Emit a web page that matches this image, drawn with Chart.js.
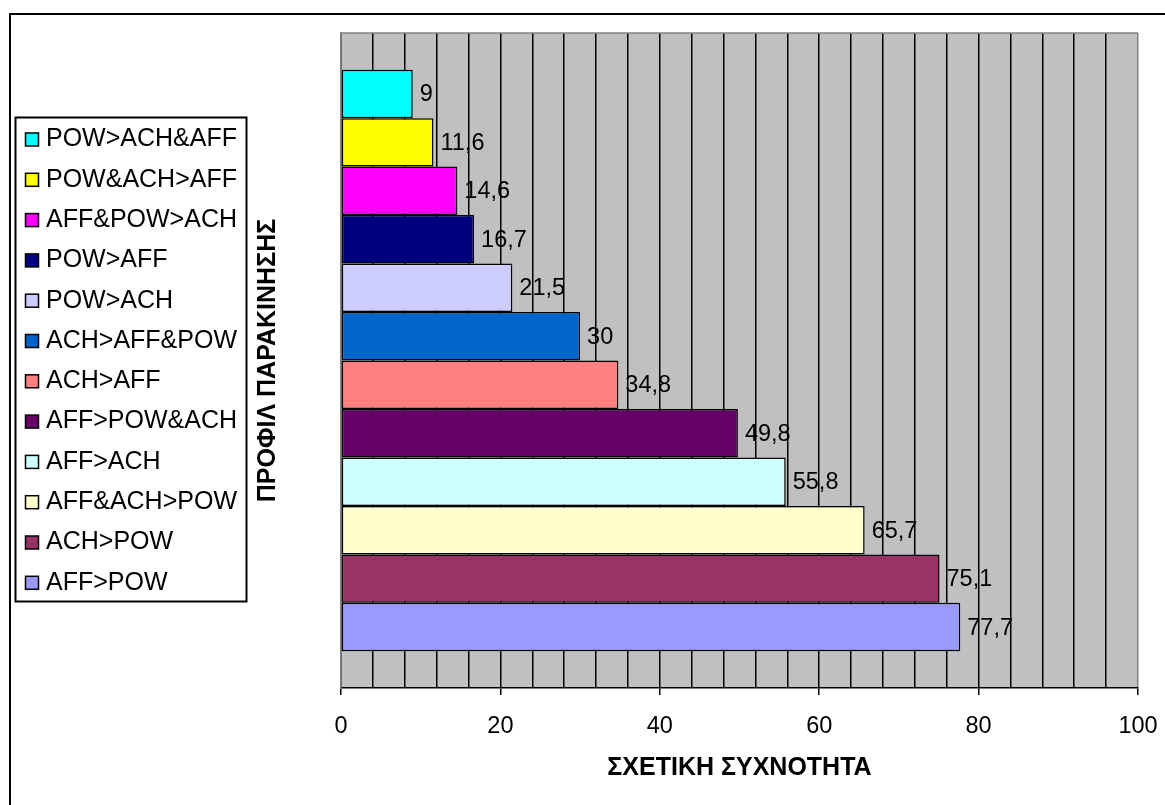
<!DOCTYPE html>
<html>
<head>
<meta charset="utf-8">
<script src="https://cdn.jsdelivr.net/npm/chart.js@4/dist/chart.umd.min.js"></script>
<style>
  html, body { margin: 0; padding: 0; background: #ffffff; }
  #wrap { width: 1165px; height: 805px; position: relative; }
</style>
</head>
<body>
<div id="wrap"><canvas id="chart" width="1165" height="805"></canvas></div>
<script>
// Motivation profiles, listed top to bottom
const profiles = [
  'POW>ACH&AFF', 'POW&ACH>AFF', 'AFF&POW>ACH', 'POW>AFF', 'POW>ACH', 'ACH>AFF&POW',
  'ACH>AFF', 'AFF>POW&ACH', 'AFF>ACH', 'AFF&ACH>POW', 'ACH>POW', 'AFF>POW'
];
// Relative frequency (%) of each profile
const frequencies = [9, 11.6, 14.6, 16.7, 21.5, 30, 34.8, 49.8, 55.8, 65.7, 75.1, 77.7];
const barColors = [
  '#00FFFF', '#FFFF00', '#FF00FF', '#000080', '#CCCCFF', '#0066CC',
  '#FF8080', '#660066', '#CCFFFF', '#FFFFCC', '#993366', '#9999FF'
];
const xTickValues = [0, 20, 40, 60, 80, 100];

const FONT = 'Liberation Sans, Arial, sans-serif';

const datasets = profiles.map((name, i) => ({
  label: name,
  data: [frequencies[i]],
  backgroundColor: barColors[i],
  borderColor: '#000000',
  borderWidth: 1.5,
  borderSkipped: false,
  barPercentage: 1,
  categoryPercentage: 0.888
}));

// Grey plot background, grey top edge and the outer frame
const frame = {
  id: 'frame',
  beforeDraw(chart) {
    const { ctx, chartArea: a } = chart;
    ctx.save();
    ctx.fillStyle = '#C0C0C0';
    ctx.fillRect(a.left, a.top, a.right - a.left, a.bottom - a.top);
    ctx.restore();
  },
  afterDraw(chart) {
    const { ctx, chartArea: a } = chart;
    ctx.save();
    ctx.strokeStyle = '#808080';
    ctx.lineWidth = 1.5;
    ctx.beginPath();
    ctx.moveTo(a.left, a.top);
    ctx.lineTo(a.right, a.top);
    ctx.stroke();
    // outer frame
    ctx.strokeStyle = '#000000';
    ctx.lineWidth = 2;
    ctx.strokeRect(10, 14, 1400, 1000);
    ctx.restore();
  }
};

// Value labels to the right of every bar
const valueLabels = {
  id: 'valueLabels',
  afterDatasetsDraw(chart) {
    const { ctx } = chart;
    ctx.save();
    ctx.font = '23.5px ' + FONT;
    ctx.fillStyle = '#000000';
    ctx.textAlign = 'left';
    ctx.textBaseline = 'middle';
    chart.data.datasets.forEach((ds, i) => {
      const bar = chart.getDatasetMeta(i).data[0];
      const txt = String(ds.data[0]).replace('.', ',');
      ctx.fillText(txt, bar.x + 7, bar.y + 1);
    });
    ctx.restore();
  }
};

// Boxed legend on the left
const boxLegend = {
  id: 'boxLegend',
  afterDraw(chart) {
    const { ctx } = chart;
    const box = { x: 15.5, y: 117.5, w: 231, h: 484 };
    ctx.save();
    ctx.fillStyle = '#ffffff';
    ctx.fillRect(box.x, box.y, box.w, box.h);
    ctx.strokeStyle = '#000000';
    ctx.lineWidth = 2;
    ctx.strokeRect(box.x, box.y, box.w, box.h);
    ctx.font = '25px ' + FONT;
    ctx.textAlign = 'left';
    ctx.textBaseline = 'middle';
    chart.data.datasets.forEach((ds, i) => {
      const cy = 138.5 + i * 40.3;
      ctx.fillStyle = ds.backgroundColor;
      ctx.fillRect(25.5, cy - 5.5, 13, 13);
      ctx.strokeStyle = '#000000';
      ctx.lineWidth = 1.5;
      ctx.strokeRect(25.5, cy - 5.5, 13, 13);
      ctx.fillStyle = '#000000';
      ctx.fillText(ds.label, 46, cy + 1);
    });
    ctx.restore();
  }
};

new Chart(document.getElementById('chart'), {
  type: 'bar',
  data: { labels: [''], datasets },
  options: {
    indexAxis: 'y',
    responsive: false,
    animation: false,
    events: [],
    layout: { padding: { top: 33, right: 27, bottom: 0, left: 250 } },
    plugins: {
      legend: { display: false },
      tooltip: { enabled: false },
      title: { display: false }
    },
    scales: {
      x: {
        type: 'linear',
        min: 0,
        max: 100,
        afterFit(scale) {
          scale.height = 117;
          scale.paddingLeft = 0;
          scale.paddingRight = 0;
        },
        ticks: {
          stepSize: 4,
          autoSkip: false,
          maxRotation: 0,
          padding: 17,
          color: '#000000',
          font: { family: FONT, size: 23.5 },
          callback: (v) => (xTickValues.includes(v) ? String(v) : '')
        },
        grid: {
          color: (c) => (c.tick && c.tick.value === 100 ? '#808080' : '#000000'),
          lineWidth: 1.5,
          tickLength: 7,
          tickColor: (c) => (c.tick && xTickValues.includes(c.tick.value) ? '#000000' : 'rgba(0,0,0,0)'),
          tickWidth: 1.5
        },
        border: { display: true, color: '#000000', width: 1.5 },
        title: {
          display: true,
          text: 'ΣΧΕΤΙΚΗ ΣΥΧΝΟΤΗΤΑ',
          color: '#000000',
          font: { family: FONT, size: 25, weight: 'bold' },
          padding: { top: 0, bottom: 22 }
        }
      },
      y: {
        type: 'category',
        afterFit(scale) {
          scale.width = 91;
          scale.paddingTop = 0;
          scale.paddingBottom = 0;
        },
        ticks: { display: false },
        grid: { display: false, drawTicks: false },
        border: { display: true, color: '#808080', width: 1.5 },
        title: {
          display: true,
          text: 'ΠΡΟΦΙΛ ΠΑΡΑΚΙΝΗΣΗΣ',
          color: '#000000',
          font: { family: FONT, size: 25, weight: 'bold' },
          padding: { top: 3, bottom: 0 }
        }
      }
    }
  },
  plugins: [frame, valueLabels, boxLegend]
});
</script>
</body>
</html>
